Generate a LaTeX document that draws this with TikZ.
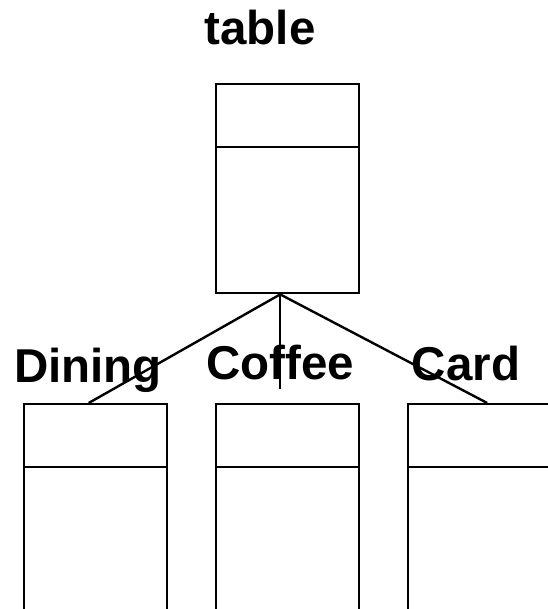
\documentclass[tikz,border=0pt]{standalone}
\usepackage{fontspec}
\setmainfont{Liberation Sans}
\usetikzlibrary{positioning}

\begin{document}
\begin{tikzpicture}[x=1pt,y=-1pt,
    classbox/.style={draw,line width=2.4pt,rectangle,minimum width=143pt,minimum height=209pt,inner sep=0,anchor=north west},
    classname/.style={font=\fontsize{47.5}{57}\selectfont\bfseries,anchor=base,inner sep=0},
    link/.style={line width=2.4pt}]
    \pgfmathsetmacro{\headheight}{64}
    \pgfmathsetmacro{\stemlength}{95}
    \useasboundingbox (0,0) rectangle (547,609);
    % class boxes
    \node[classbox] (table) at (215,83) {};
    \node[classbox] (dining) at (23,403) {};
    \node[classbox] (coffee) at (215,403) {};
    \node[classbox] (card) at (407,403) {};
    \foreach \n in {table,dining,coffee,card}
        \draw[link] ([yshift=-\headheight pt]\n.north west) -- ([yshift=-\headheight pt]\n.north east);
    % names
    \node[classname] (tablename) at (260,45) {table};
    \node[classname] (diningname) at (88,382) {Dining};
    \node[classname] (coffeename) at (280,379) {Coffee};
    \node[classname] (cardname) at (466,380) {Card};
    % links
    \coordinate (hub) at ([xshift=-7.5pt]table.south);
    \coordinate (stemend) at ([yshift=-\stemlength pt]hub);
    \draw[link] (hub) -- ([xshift=-7pt]dining.north);
    \draw[link] (hub) -- (stemend);
    \draw[link] (hub) -- ([xshift=7.5pt]card.north);
\end{tikzpicture}
\end{document}
